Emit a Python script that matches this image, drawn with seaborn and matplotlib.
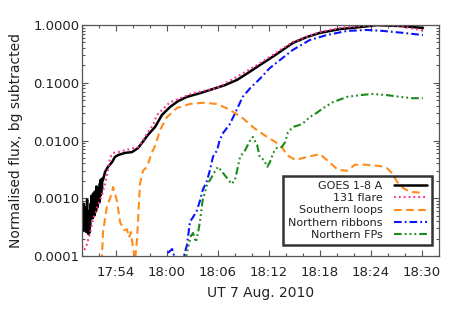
import matplotlib
matplotlib.use('Agg')
import matplotlib.pyplot as plt
import seaborn as sns
import pandas as pd
from matplotlib.ticker import FixedLocator, FixedFormatter, LogLocator, NullFormatter

sns.set_style('ticks')
plt.rcParams['font.family'] = ['DejaVu Sans']
plt.rcParams['lines.scale_dashes'] = False

# time in minutes after 17:50 UT
goes_t = [0.0, 0.05, 0.1, 0.15, 0.2, 0.25, 0.3, 0.35, 0.4, 0.45, 0.5, 0.55, 0.6, 0.65, 0.7,
          0.75, 0.8, 0.85, 0.9, 0.95, 1.0, 1.05, 1.1, 1.15, 1.2, 1.25, 1.3, 1.35, 1.4, 1.45,
          1.5, 1.55, 1.6, 1.65, 1.7, 1.75, 1.8, 1.85, 1.9, 1.95, 2.0, 2.05, 2.1, 2.15, 2.2,
          2.25, 2.3, 2.35, 2.4, 2.47, 2.71, 3.06, 3.53, 3.88, 4.24,
          5.06, 5.88, 6.59, 7.06, 7.76, 8.59, 9.41, 10.35, 11.29, 12.35, 13.88, 15.06,
          16.82, 18.24, 19.53, 20.94, 22.71, 24.82, 26.47, 28.0, 30.35, 32.71, 34.71,
          37.41, 40.12]
goes_v = [5.0e-4, 3.0e-4, 7.5e-4, 2.7e-4, 8.0e-4, 4.0e-4, 2.8e-4, 6.5e-4, 3.0e-4, 7.0e-4,
          2.6e-4, 5.0e-4, 9.5e-4, 3.5e-4, 6.0e-4, 2.4e-4, 4.5e-4, 2.5e-4, 5.5e-4, 3.2e-4,
          8.0e-4, 4.5e-4, 1.1e-3, 5.0e-4, 9.0e-4, 4.5e-4, 1.2e-3, 6.0e-4, 1.0e-3, 5.0e-4,
          1.3e-3, 6.5e-4, 1.1e-3, 6.0e-4, 1.6e-3, 8.0e-4, 1.2e-3, 7.0e-4, 1.5e-3, 9.0e-4,
          1.4e-3, 8.5e-4, 1.8e-3, 1.1e-3, 2.1e-3, 1.2e-3, 1.9e-3, 1.5e-3, 2.2e-3,
          2.07e-3, 2.85e-3, 3.5e-3, 4.2e-3, 5.2e-3,
          5.6e-3, 6.1e-3, 6.3e-3, 7.4e-3, 9.1e-3, 1.25e-2, 1.71e-2, 2.77e-2, 3.8e-2, 4.8e-2,
          5.7e-2, 6.6e-2, 7.5e-2, 9.1e-2, 0.112, 0.148, 0.203, 0.30, 0.49, 0.62, 0.73, 0.85,
          0.92, 0.995, 0.96, 0.89]

flare131_t = [0.0, 0.24, 0.47, 0.71, 0.94, 1.18, 1.41, 1.65, 1.88, 2.12, 2.35, 2.71, 3.06,
              3.29, 3.65, 4.24, 5.06, 6.59, 7.06, 7.76, 8.35, 8.82, 10.35, 13.06, 15.88,
              18.59, 20.59, 24.82, 28.0, 30.35, 32.71, 34.71, 37.41, 40.12]
flare131_v = [1.5e-4, 1.27e-4, 1.4e-4, 1.9e-4, 2.5e-4, 3.6e-4, 4.9e-4, 5.8e-4, 7.6e-4,
              9.3e-4, 1.14e-3, 1.77e-3, 3.1e-3, 5.0e-3, 6.1e-3, 6.3e-3, 6.8e-3, 7.7e-3,
              9.4e-3, 1.4e-2, 1.85e-2, 2.77e-2, 4.6e-2, 6.6e-2, 8.1e-2, 0.136, 0.203, 0.51,
              0.76, 0.89, 0.96, 1.0, 0.96, 0.80]

south_t = [2.2, 2.47, 2.94, 3.53, 3.65, 4.12, 4.47, 4.94, 5.29, 5.53, 5.76, 6.0, 6.24, 6.47,
           6.82, 7.18, 7.65, 8.24, 8.59, 9.18, 10.0, 11.18, 12.7, 14.2, 15.9, 17.4, 18.9,
           20.1, 20.9, 21.8, 22.9, 23.6, 24.1, 25.1, 26.5, 28.0, 29.2, 30.1, 31.2, 32.1,
           33.5, 35.1, 35.9, 36.5, 37.1, 37.8, 38.6, 40.1]
south_v = [3e-5, 2.6e-4, 7.3e-4, 1.23e-3, 1.57e-3, 9e-4, 3.9e-4, 2.8e-4, 2.9e-4, 2.1e-4,
           2.6e-4, 1.4e-4, 8.5e-5, 1.9e-4, 1.77e-3, 3.0e-3, 3.5e-3, 6.3e-3, 8.0e-3, 1.52e-2,
           2.55e-2, 3.66e-2, 4.3e-2, 4.5e-2, 4.3e-2, 3.4e-2, 2.45e-2, 1.71e-2, 1.4e-2,
           1.15e-2, 9.1e-3, 7.4e-3, 5.6e-3, 4.6e-3, 5.2e-3, 5.8e-3, 4.1e-3, 3.1e-3, 3.0e-3,
           3.8e-3, 3.8e-3, 3.6e-3, 3.3e-3, 2.7e-3, 1.9e-3, 1.5e-3, 1.29e-3, 1.24e-3]

north_rib_t = [10.1, 10.6, 10.9, 11.3, 11.9, 12.35, 12.7, 13.06, 13.5, 13.9, 14.2, 14.7,
               15.06, 15.4, 15.9, 16.2, 16.6, 17.4, 18.2, 18.9, 19.8, 20.9, 22.1, 23.3,
               24.8, 26.8, 28.8, 31.2, 33.5, 35.4, 37.8, 40.1]
north_rib_v = [1.13e-4, 1.32e-4, 9.5e-5, 9e-5, 9e-5, 1.55e-4, 3.9e-4, 4.7e-4, 6.0e-4,
               9.3e-4, 1.39e-3, 2.0e-3, 3.1e-3, 5.2e-3, 6.8e-3, 1.02e-2, 1.35e-2, 1.93e-2,
               3.4e-2, 5.7e-2, 8.1e-2, 0.116, 0.18, 0.248, 0.37, 0.55, 0.67, 0.79, 0.82,
               0.79, 0.73, 0.67]

north_fp_t = [12.1, 12.5, 12.8, 13.06, 13.4, 13.65, 13.9, 14.2, 14.7, 15.06, 15.6, 16.0,
              16.5, 17.06, 17.6, 18.0, 18.6, 19.2, 19.8, 20.1, 20.6, 20.9, 21.4, 21.8, 22.1,
              22.5, 22.9, 23.5, 23.9, 24.2, 24.8, 25.6, 26.2, 26.8, 27.6, 28.4, 29.5, 31.2,
              32.7, 34.2, 35.9, 37.4, 38.9, 40.1]
north_fp_v = [8e-5, 1.43e-4, 2.2e-4, 2.5e-4, 1.74e-4, 2.5e-4, 4.2e-4, 9.3e-4, 1.7e-3,
              2.07e-3, 2.85e-3, 3.5e-3, 2.85e-3, 2.24e-3, 1.77e-3, 2.07e-3, 5.2e-3, 6.8e-3,
              1.02e-2, 1.15e-2, 8.4e-3, 5.2e-3, 4.6e-3, 3.5e-3, 4.2e-3, 6.1e-3, 7.4e-3,
              7.7e-3, 9.4e-3, 1.35e-2, 1.71e-2, 1.86e-2, 2.1e-2, 2.55e-2, 3.0e-2, 3.66e-2,
              4.6e-2, 5.7e-2, 6.1e-2, 6.4e-2, 6.1e-2, 5.7e-2, 5.4e-2, 5.4e-2]

series_names = ['GOES 1-8 A', '131 flare', 'Southern loops', 'Northern ribbons', 'Northern FPs']
x_tick_pos = [4, 10, 16, 22, 28, 34, 40]
x_tick_labels = ['17:54', '18:00', '18:06', '18:12', '18:18', '18:24', '18:30']
y_tick_pos = [1e-4, 1e-3, 1e-2, 1e-1, 1.0]
y_tick_labels = ['0.0001', '0.0010', '0.0100', '0.1000', '1.0000']

W, H = 463, 309
fig = plt.figure(figsize=(W / 100, H / 100), dpi=100)
ax = fig.add_axes([82 / W, 1 - 256 / H, 357 / W, 231 / H])
ax.set_yscale('log')

styles = [
    (goes_t, goes_v, 'black', '-', 1.8),
    (flare131_t, flare131_v, '#ff2d96', (0, (1.3, 2.2)), 1.5),
    (south_t, south_v, '#ff8c1a', (0, (5.5, 3.2)), 1.5),
    (north_rib_t, north_rib_v, '#0a14ff', (0, (5.5, 2.2, 1.3, 2.2)), 1.5),
    (north_fp_t, north_fp_v, '#1a8c1a', (0, (5.5, 2.2, 1.3, 2.2, 1.3, 2.2, 1.3, 2.2)), 1.5),
]
for (t, v, c, ls, lw), name in zip(styles, series_names):
    df = pd.DataFrame({'t': t, 'v': v})
    sns.lineplot(data=df, x='t', y='v', ax=ax, color=c, linestyle=ls, linewidth=lw,
                 label=name, estimator=None, sort=False)

ax.set_xlim(0, 42)
ax.set_ylim(1e-4, 1.0)

axis_col = '#555555'
text_col = '#222222'
ax.xaxis.set_major_locator(FixedLocator(x_tick_pos))
ax.xaxis.set_major_formatter(FixedFormatter(x_tick_labels))
ax.xaxis.set_minor_locator(FixedLocator([m for m in range(0, 43, 2) if m not in x_tick_pos]))
ax.yaxis.set_major_locator(FixedLocator(y_tick_pos))
ax.yaxis.set_major_formatter(FixedFormatter(y_tick_labels))
ax.yaxis.set_minor_locator(LogLocator(base=10, subs=[2, 3, 4, 5, 6, 7, 8, 9], numticks=20))
ax.yaxis.set_minor_formatter(NullFormatter())

ax.tick_params(which='both', direction='in', top=True, right=True, color=axis_col,
               labelcolor=text_col, labelsize=9.5, width=0.8)
ax.tick_params(which='major', length=4.2)
ax.tick_params(which='minor', length=2.4)
ax.tick_params(axis='x', which='major', pad=7)
ax.tick_params(axis='y', which='major', pad=2)
for s in ax.spines.values():
    s.set_color(axis_col)
    s.set_linewidth(0.9)

ax.set_xlabel('UT 7 Aug. 2010', fontsize=10, color=text_col, labelpad=5)
ax.set_ylabel('Normalised flux, bg subtracted', fontsize=10, color=text_col, labelpad=7)

leg = ax.legend(loc='lower right', bbox_to_anchor=(0.98, 0.048), markerfirst=False,
                fontsize=8, frameon=True, fancybox=False, handlelength=3.0,
                handletextpad=1.0, labelspacing=0.2, borderpad=0.45, borderaxespad=0)
leg.get_frame().set_edgecolor('black')
leg.get_frame().set_linewidth(1.8)
leg.get_frame().set_facecolor('none')
for col in leg._legend_handle_box.get_children():
    col.align = 'right'
for txt in leg.get_texts():
    txt.set_color(text_col)

fig.savefig('out.png', dpi=100)
